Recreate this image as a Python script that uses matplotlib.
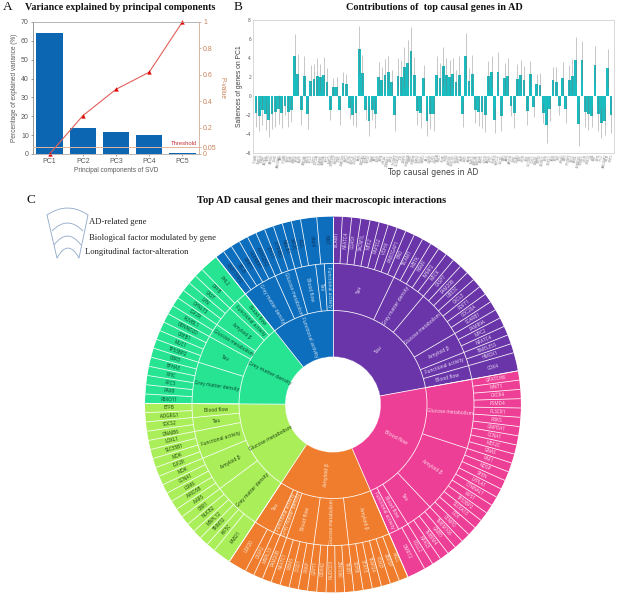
import numpy as np
import matplotlib
matplotlib.use('Agg')
import matplotlib.pyplot as plt
from matplotlib.path import Path
from matplotlib.patches import PathPatch

W, H = 617, 596

# ---------- Panel A data ----------
pcs = ['PC1', 'PC2', 'PC3', 'PC4', 'PC5']
variance = [64, 13.8, 11.7, 10.2, 0.7]
pvalue = [0.0, 0.29, 0.49, 0.62, 1.0]
threshold = 0.05

# ---------- Panel B data ----------
salience = [-1.75, -2.1, -1.5, -1.9, -2.5, -1.9, -1.7, -1.4, -1.8, -1.1, -1.65, -1.5, 4.25, 2.3, -1.45, 2.15,
            -1.9, 1.6, 1.8, 2.1, 1.95, 2.2, 1.5, -1.45, 0.95, 1.0, -1.5, 1.4, 1.25, -1.3, -1.95, -1.75,
            4.9, 2.4, -1.45, -2.6, -1.45, -1.85, 1.95, 1.7, 2.25, 2.5, 1.5, -2.05, 2.1, 2.05, 3.1, 3.5,
            4.7, 2.25, -1.55, -1.8, 1.9, -2.65, -1.85, -1.9, 2.25, 1.85, 3.15, 2.25, 1.95, 2.35, 1.5, 2.25,
            -1.9, 4.2, 1.6, 2.3, -1.5, -1.65, -1.7, -2.0, 2.1, 2.55, -2.55, 2.5, -2.1, 1.85, 2.1, -1.1,
            -1.75, 1.75, 2.2, 1.65, -1.55, 2.35, -1.2, 1.25, 1.2, -1.75, -3.05, -1.4, 1.7, 1.5, -1.05, 1.9,
            -1.4, 1.7, 2.1, 3.8, -2.95, 3.75, -1.65, -1.85, -2.1, 3.3, -1.9, -2.85, -2.6, 2.9, -2.0]
salience_end = [-3.3, -3.7, -3.0, -3.6, -4.3, -3.5, -3.3, -2.9, -3.4, -2.0, -3.3, -2.7, 6.55, 4.4, -3.0, 4.25,
                -3.5, 3.25, 3.35, 4.0, 3.4, 4.1, 2.95, -2.55, 1.9, 2.05, -3.0, 2.5, 2.35, -2.4, -3.1, -3.25,
                7.4, 4.35, -2.55, -4.25, -2.55, -3.35, 3.6, 3.05, 3.85, 4.2, 2.75, -3.7, 4.0, 3.8, 5.2, 5.9,
                7.25, 4.1, -3.0, -3.4, 3.25, -4.25, -3.5, -3.65, 4.2, 3.45, 5.2, 4.05, 3.75, 3.95, 2.7, 4.2,
                -3.3, 6.6, 2.9, 4.3, -2.8, -3.15, -3.4, -3.75, 3.7, 4.2, -3.9, 4.6, -3.7, 3.45, 4.0, -2.1,
                -3.35, 3.4, 3.8, 3.2, -3.05, 3.7, -2.25, 2.3, 2.4, -2.8, -4.9, -2.6, 3.05, 3.05, -2.0, 3.6,
                -2.8, 3.25, 3.9, 6.2, -5.25, 5.8, -3.25, -3.6, -3.25, 5.25, -3.7, -4.4, -4.1, 5.0, -3.85]

# ---------- Panel C data (clockwise from the top) ----------
sector_names = ['Tau', 'Blood flow', 'Amyloid β', 'Glucose metabolism', 'Grey matter density', 'Functional activity']
sector_colors = ['#6a35a8', '#ee3f96', '#ef7d2d', '#aaee5a', '#27e493', '#0d6ebd']
gene_text_colors = ['#efe6fa', '#fde8f2', '#fdeede', '#16380a', '#08402a', '#0a2f58']
mid_text_colors = ['#efe6fa', '#fde8f2', '#fdeede', '#16380a', '#08402a', '#d8e8f6']

purple_genes = ['TICAM1', 'NFATC4', 'COASY', 'SACM1L', 'MTF2', 'PAPSS2', 'VDHX', 'RAB3GAP1', 'BAD', 'TICAM1',
                'MBTK', 'NSMF', 'IMMP2', 'MFCK', 'CASP7', 'FAM20B', 'UBE3C', 'CXCL3', 'FDFT1', 'CDC20A',
                'SCARB1', 'FAM89A', 'MPC2', 'NFATC4', 'TIMELESS', 'HMOX1', 'CDK4']
pink_genes = ['GPATCH8', 'MAIT1', 'CXCR4', 'PSMD4', 'PLSCR1', 'RBKS', 'GNPDA1', 'CCNA1', 'MEF2C', 'GNAS',
              'PAF1', 'NDSP', 'SPEN', 'LYPLA1', 'CTNNAL1', 'WFS1', 'TP53BP2', 'SLC6A13', 'DCK', 'CENPO',
              'TMEM106', 'GNB5', 'TMBIM4', 'NPAS3', 'POLL2', 'DMRT2']
orange_genes = ['KALL', 'ZBRSP', 'FOXJ3', 'TFAP2A', 'STAT3', 'SDHB', 'TRIB1', 'ZNF586', 'NUDCD3', 'DDX42',
                'GFPT1', 'PRKP', 'CISD1', 'RBMS', 'NFATC1', 'FAM20B', 'MRPL13', 'CASP2', 'USP20']
lime_genes = ['RAB21', 'KIF5C', 'TRIM32', 'MRPL12', 'NUCB2', 'CBR1', 'AARS', 'ARID5B', 'LSM6', 'CCNA1',
              'MOK', 'IGF2R', 'MOK', 'SLC35B1', 'LOXL1', 'DNAJB6', 'SOCS2', 'ADGRG1', 'ETFB']
green_genes = ['FBXO11', 'PAX8', 'RFC5', 'PPIC', 'EPHA3', 'CBR3', 'TP53BP2', 'MUC1', 'CREB1', 'DENND2D',
               'RUVBL1', 'IGF2R', 'DYNLT3', 'LYN', 'CAST', 'DFFB', 'FHL2']
blue_genes = ['RAB11FIP2', 'SELB', 'FPRT1', 'ULK4BP1', 'ARHGEF2', 'STK11', 'ATP8B2', 'NGLB1', 'KIF2C', 'AGL',
              'PAK4', 'NNT']
sector_genes = [purple_genes, pink_genes, orange_genes, lime_genes, green_genes, blue_genes]
wide_genes = {'CDK4': 2, 'DMRT2': 2, 'USP20': 2, 'RAB21': 2, 'FHL2': 2, 'PAK4': 1.75, 'NNT': 1.75}

purple_mid = ['Tau', 'Grey matter density', 'Glucose metabolism', 'Amyloid β', 'Functional activity', 'Blood flow']
purple_units = [9, 5, 7, 3, 2, 2]
pink_mid = ['Glucose metabolism', 'Amyloid β', 'Tau', 'Blood flow', 'Functional activity']
pink_units = [10, 10, 4, 1.5, 1.5]
orange_mid = ['Amyloid β', 'Glucose metabolism', 'Blood flow', 'Grey matter density', 'Functional activity', 'Tau']
orange_units = [6, 5, 4, 1, 1, 3]
lime_mid = ['Grey matter density', 'Amyloid β', 'Functional activity', 'Tau', 'Blood flow']
lime_units = [7, 5, 4, 2, 2]
green_mid = ['Grey matter density', 'Tau', 'Glucose metabolism', 'Amyloid β', 'Functional activity', 'Blood flow']
green_units = [6, 4, 2, 3, 1.5, 1.5]
blue_mid = ['Grey matter density', 'Glucose metabolism', 'Blood flow', 'Tau', 'Functional activity']
blue_units = [5, 3, 3, 1.25, 1.25]
sector_mid = [purple_mid, pink_mid, orange_mid, lime_mid, green_mid, blue_mid]
sector_mid_units = [purple_units, pink_units, orange_units, lime_units, green_units, blue_units]

legend_labels = ['AD-related gene', 'Biological factor modulated by gene', 'Longitudinal factor-alteration']

SERIF = 'Liberation Serif'
SANS = 'Liberation Sans'
PIE = 'Open Sans'

fig = plt.figure(figsize=(W / 100, H / 100), dpi=100)
fig.patch.set_facecolor('white')


def rect(l, t, r, b):
    return [l / W, 1 - b / H, (r - l) / W, (b - t) / H]


def ftext(px, py, s, **kw):
    return fig.text(px / W, 1 - py / H, s, **kw)


# ---------- Panel A ----------
GRAY = '#5a5a5a'
ORANGE_TXT = '#c9825a'
axa = fig.add_axes(rect(33, 22, 199, 154))
xa = np.arange(len(pcs))
axa.bar(xa, variance, width=0.8, color='#0c66b2')
axa.set_xlim(-0.5, 4.5)
axa.set_ylim(0, 70)
axa.set_xticks(xa, pcs)
axa.set_yticks(range(0, 71, 10))
axa.tick_params(axis='both', labelsize=5, colors=GRAY, length=1.5, width=0.4, pad=1.5)
axa.set_xlabel('Principal components of SVD', fontsize=4.7, color=GRAY, labelpad=1.5, family=SANS)
axa.set_ylabel('Percentage of explained variance (%)', fontsize=4.7, color=GRAY, labelpad=2, family=SANS)
for lb in axa.get_xticklabels() + axa.get_yticklabels():
    lb.set_family(SANS)
axp = axa.twinx()
axp.set_ylim(0, 1)
axp.axhline(threshold, color='#e3b5a0', lw=0.7, zorder=1)
axp.plot(xa, pvalue, color='#e0605a', lw=0.8, marker='^', ms=2.8, mfc='#e00000', mec='#e00000', mew=0.2, clip_on=False)
axp.set_yticks([0, 0.05, 0.2, 0.4, 0.6, 0.8, 1], ['0', '0.05', '0.2', '0.4', '0.6', '0.8', '1'])
axp.tick_params(axis='y', labelsize=5, colors=ORANGE_TXT, length=1.5, width=0.4, pad=1.5)
for lb in axp.get_yticklabels():
    lb.set_family(SANS)
axp.set_ylabel('P-value', fontsize=4.7, color=ORANGE_TXT, rotation=270, labelpad=6, family=SANS)
axp.text(4.43, threshold + 0.012, 'Threshold', color='#c8323c', fontsize=4.2, ha='right', va='bottom', family=SANS)
for ax_ in (axa, axp):
    for name, sp in ax_.spines.items():
        sp.set_linewidth(0.5)
        sp.set_color('#b0b0b0')
axa.spines['left'].set_color('#707070')
axp.spines['right'].set_color('#e3b595')
axp.spines['left'].set_visible(False)

# ---------- Panel B ----------
axB = fig.add_axes(rect(253, 20, 614, 153))
xb = np.arange(len(salience))
sal = np.array(salience)
err = np.abs(np.array(salience_end) - sal)
axB.bar(xb, sal, width=0.86, color='#1bbcc0', zorder=2)
axB.errorbar(xb, sal, yerr=err, fmt='none', ecolor=(0.45, 0.45, 0.45, 0.4), elinewidth=0.7, capsize=0, zorder=3)
axB.set_xlim(-0.9, len(sal) - 0.1)
axB.set_ylim(-6, 8)
axB.set_yticks(range(-6, 9, 2))
all_genes = [g for s in sector_genes for g in s]
axB.set_xticks(xb, all_genes[:len(xb)], rotation=80, fontsize=1.9, color='#808080')
axB.tick_params(axis='x', length=0, pad=0.8)
axB.tick_params(axis='y', labelsize=3.4, colors='#555555', length=0, pad=1.5)
for lb in axB.get_yticklabels():
    lb.set_family(SANS)
axB.set_ylabel('Saliences of genes on PC1', fontsize=4.9, color='#404040', labelpad=2, family=SANS)
ftext(433.5, 172.5, 'Top causal genes in AD', fontsize=5.6, color='#404040', ha='center', va='center', family='DejaVu Sans')
for sp in axB.spines.values():
    sp.set_linewidth(0.7)
    sp.set_color('#d8d8d8')

# ---------- Panel C ----------
CX, CY, R = 333, 404.5, 188
axC = fig.add_axes(rect(CX - R, CY - R, CX + R, CY + R), projection='polar')
axC.set_theta_zero_location('N')
axC.set_theta_direction(-1)
axC.set_ylim(0, R)
axC.set_axis_off()
ring = [48, 94, 141, R]
units_sector = [sum(wide_genes.get(g, 1) for g in s) for s in sector_genes]
deg_per_unit = 360.0 / sum(units_sector)
LINE = dict(color='#ffffff', lw=0.55, solid_capstyle='butt', zorder=3)


def rad_text(theta_deg, r, s, size, color):
    th = theta_deg % 360
    rot = 90 - th if th <= 180 else 270 - th
    axC.text(np.deg2rad(th), r, s, rotation=rot, rotation_mode='anchor', ha='center', va='center',
             fontsize=size, color=color, family=PIE, zorder=4)


def radial(u, r0, r1):
    th = np.deg2rad(u * deg_per_unit)
    axC.plot([th, th], [r0, r1], **LINE)


start = 0.0
for i, genes in enumerate(sector_genes):
    col = sector_colors[i]
    th0 = np.deg2rad(start * deg_per_unit)
    wid = np.deg2rad(units_sector[i] * deg_per_unit)
    axC.bar(th0, ring[3] - ring[0], width=wid, bottom=ring[0], align='edge', color=col, edgecolor=col, linewidth=0.2, zorder=1)
    radial(start, ring[0], ring[3])
    rad_text((start + units_sector[i] / 2) * deg_per_unit, (ring[0] + ring[1]) / 2, sector_names[i], 3.7, mid_text_colors[i])
    u = start
    for name, n in zip(sector_mid[i], sector_mid_units[i]):
        radial(u, ring[1], ring[2])
        rad_text((u + n / 2) * deg_per_unit, (ring[1] + ring[2]) / 2, name, 3.5, mid_text_colors[i])
        u += n
    u = start
    for g in genes:
        n = wide_genes.get(g, 1)
        radial(u, ring[2], ring[3])
        rad_text((u + n / 2) * deg_per_unit, (ring[2] + ring[3]) / 2, g, 3.3, gene_text_colors[i])
        u += n
    start += units_sector[i]
circle_th = np.linspace(0, 2 * np.pi, 361)
for r_ in ring[1:3]:
    axC.plot(circle_th, np.full_like(circle_th, r_), **LINE)

# ---------- Titles and panel letters ----------
ftext(120.5, 7, 'Variance explained by principal components', fontsize=7.2, fontweight='bold', family=SERIF,
      ha='center', va='center', color='#111111')
ftext(434.5, 7.5, 'Contributions of  top causal genes in AD', fontsize=7.4, fontweight='bold', family=SERIF,
      ha='center', va='center', color='#111111')
ftext(321.5, 200.5, 'Top AD causal genes and their macroscopic interactions', fontsize=7.6, fontweight='bold',
      family=SERIF, ha='center', va='center', color='#111111')
ftext(7.5, 7, 'A', fontsize=9.5, family=SERIF, ha='center', va='center', color='#111111')
ftext(238, 7, 'B', fontsize=9.5, family=SERIF, ha='center', va='center', color='#111111')
ftext(30.5, 199.5, 'C', fontsize=9.5, family=SERIF, ha='center', va='center', color='#111111')

# ---------- Legend sketch ----------
axL = fig.add_axes([0, 0, 1, 1], facecolor='none')
axL.set_xlim(0, W)
axL.set_ylim(H, 0)
axL.set_axis_off()
sketch = '#8fa8c8'
arcs = [(47, 88, 215, 208), (52, 83, 231, 223), (54, 81, 245, 236), (57, 79, 258, 248)]
for x0, x1, ye, yt in arcs:
    p = Path([(x0, ye), ((x0 + x1) / 2, 2 * yt - ye), (x1, ye)], [Path.MOVETO, Path.CURVE3, Path.CURVE3])
    axL.add_patch(PathPatch(p, fc='none', ec=sketch, lw=0.6))
axL.plot([47, 57], [215, 258], color=sketch, lw=0.6)
axL.plot([88, 79], [215, 258], color=sketch, lw=0.6)
ftext(89, 222, legend_labels[0], fontsize=6.2, family=SERIF, va='center', color='#222222')
ftext(89, 238, legend_labels[1], fontsize=6.2, family=SERIF, va='center', color='#222222')
ftext(85, 252, legend_labels[2], fontsize=6.2, family=SERIF, va='center', color='#222222')

fig.savefig('out.png', dpi=100, facecolor='white')
